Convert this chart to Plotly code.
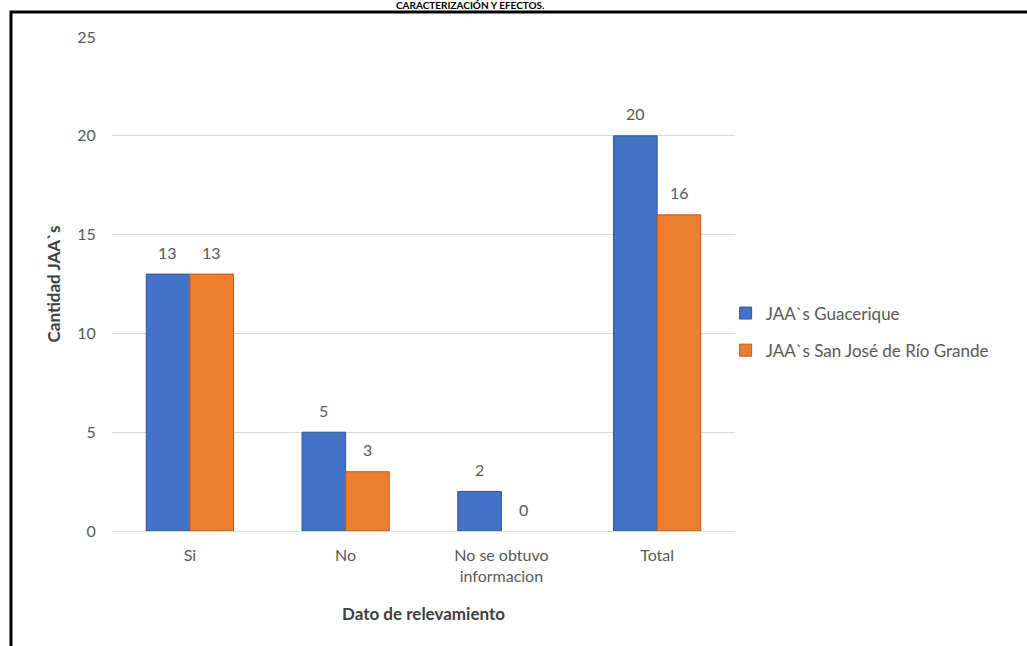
import plotly.graph_objects as go

categories = ["Si", "No", "No se obtuvo<br>informacion", "Total"]
guacerique = [13, 5, 2, 20]
san_jose = [13, 3, 0, 16]
series_names = ["JAA`s Guacerique", "JAA`s San José de Río Grande"]
y_ticks = [0, 5, 10, 15, 20, 25]

W, H = 1027, 646
L, R, T, B = 112, 292, 37, 115
pw, ph = W - L - R, H - T - B

FONT = "Lato"
GRAY = "#595959"

fig = go.Figure()
fig.add_trace(go.Bar(x=categories, y=guacerique, name=series_names[0],
                     marker=dict(color="#4472C4",
                                 line=dict(color="#2F5597",
                                           width=[1 if v > 0 else 0 for v in guacerique])),
                     legendgroup="a"))
fig.add_trace(go.Bar(x=categories, y=san_jose, name=series_names[1],
                     marker=dict(color="#ED7D31",
                                 line=dict(color="#C55A11",
                                           width=[1 if v > 0 else 0 for v in san_jose])),
                     legendgroup="b"))

annotations = []
for vals, shift in ((guacerique, -22), (san_jose, 22)):
    for c, v in zip(categories, vals):
        annotations.append(dict(x=c, y=v, xref="x", yref="y", text=str(v), showarrow=False,
                                xshift=shift, yshift=22, yanchor="middle",
                                font=dict(family=FONT, size=16, color=GRAY)))

annotations.append(dict(x=(470 - L) / pw, y=1 + (T - 5) / ph, xref="paper", yref="paper",
                        text="<b>CARACTERIZACIÓN Y EFECTOS.</b>", showarrow=False,
                        yanchor="middle", font=dict(family=FONT, size=10, color="#000000")))

shapes = [dict(type="rect", xref="paper", yref="paper",
               x0=(11 - L) / pw, x1=(W + 10 - L) / pw,
               y0=-(B + 10) / ph, y1=1 + (T - 12) / ph,
               line=dict(color="#000000", width=3), fillcolor="rgba(0,0,0,0)")]

fig.update_layout(
    width=W, height=H,
    margin=dict(l=L, r=R, t=T, b=B),
    paper_bgcolor="white", plot_bgcolor="white",
    barmode="group", bargap=0.44, bargroupgap=0,
    font=dict(family=FONT, size=16, color=GRAY),
    annotations=annotations, shapes=shapes,
    legend=dict(x=0.985, xanchor="left", y=(H - B - 332) / ph, yanchor="middle",
                font=dict(family=FONT, size=17, color=GRAY),
                traceorder="grouped", tracegroupgap=12, bgcolor="rgba(0,0,0,0)"),
    xaxis=dict(showgrid=False, showline=False, ticks="outside", ticklen=10,
               tickcolor="rgba(0,0,0,0)",
               tickfont=dict(family=FONT, size=16, color=GRAY),
               title=dict(text="<b>Dato de relevamiento</b>", standoff=24,
                          font=dict(family=FONT, size=17, color="#404040"))),
    yaxis=dict(range=[0, 25], tickvals=y_ticks, showgrid=True, gridcolor="#D9D9D9",
               gridwidth=1, zeroline=True, zerolinecolor="#D9D9D9", zerolinewidth=1,
               ticks="outside", ticklen=12, tickcolor="rgba(0,0,0,0)",
               tickfont=dict(family=FONT, size=16, color=GRAY),
               title=dict(text="<b>Cantidad JAA`s</b>", standoff=12,
                          font=dict(family=FONT, size=17, color="#404040"))),
)

fig.write_html("out.html")
